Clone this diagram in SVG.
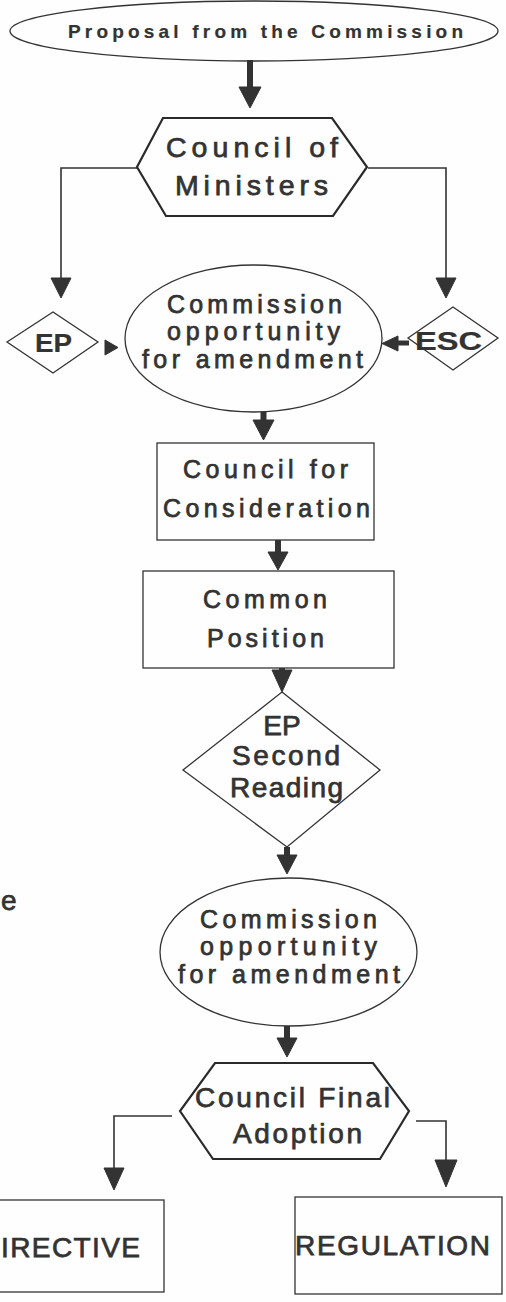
<svg xmlns="http://www.w3.org/2000/svg" width="506" height="1302" viewBox="0 0 506 1302">
<style>
.shape{fill:none;stroke:#333;stroke-width:1.3}
.hex{fill:none;stroke:#2a2a2a;stroke-width:2.2;stroke-linejoin:miter}
.line{fill:none;stroke:#333;stroke-width:1.6}
.shaft{fill:none;stroke:#333;stroke-width:6}
.head{fill:#333;stroke:#333;stroke-width:1;stroke-linejoin:round}
text{font-family:"Liberation Sans",Arial,Helvetica,sans-serif;fill:#333;text-anchor:middle;stroke:#333;stroke-width:0.75}
.b{font-weight:bold;stroke-width:0.2}
.s24{font-size:25px}
.s27{font-size:28px}
.s28{font-size:28.5px}
</style>
<rect x="0" y="0" width="506" height="1302" fill="#fefefe"/>
<g id="connectors">
<path class="shaft" d="M250,60 V88"/>
<polygon class="head" points="239,87 261,87 250,108"/>
<path class="line" d="M137,168 H61 V280"/>
<polygon class="head" points="51,278 71,278 61,298"/>
<path class="line" d="M368,168 H446 V280"/>
<polygon class="head" points="436,278 456,278 446,298"/>
<polygon class="head" points="105,340 105,355 118,347.5"/>
<path class="shaft" d="M409,343 H396" style="stroke-width:5"/>
<polygon class="head" points="398,336 398,351 382,343.5"/>
<path class="shaft" d="M263.5,412 V421"/>
<polygon class="head" points="253,420 274,420 263.5,440"/>
<path class="shaft" d="M278,540 V553"/>
<polygon class="head" points="268,552 288,552 278,570"/>
<path class="shaft" d="M282,668 V672"/>
<polygon class="head" points="272,670 292,670 282,692"/>
<path class="shaft" d="M287,847 V856"/>
<polygon class="head" points="277,855 297,855 287,874"/>
<path class="shaft" d="M287,1026 V1039"/>
<polygon class="head" points="277,1038 297,1038 287,1057"/>
<path class="line" d="M172,1116 H114 V1170"/>
<polygon class="head" points="104,1168 124,1168 114,1190"/>
<path class="line" d="M416,1121 H446 V1162"/>
<polygon class="head" points="435,1160 457,1160 446,1187"/>
</g>
<g id="proposal">
<ellipse class="shape" cx="254" cy="31" rx="244" ry="30"/>
<text class="b" x="265.5" y="38" font-size="19" textLength="395" lengthAdjust="spacing">Proposal from the Commission</text>
</g>
<g id="council-ministers">
<polygon class="hex" points="163,118 332,118 367,167 333,216 166,216 137,167"/>
<text class="s28" x="252" y="157" textLength="172" lengthAdjust="spacing">Council of</text>
<text class="s28" x="251.5" y="195" textLength="153" lengthAdjust="spacing">Ministers</text>
</g>
<g id="ep">
<polygon class="shape" points="7,342 53,312 98,342 53,373"/>
<text class="b" x="53.5" y="352" font-size="25" textLength="37" lengthAdjust="spacingAndGlyphs">EP</text>
</g>
<g id="commission-1">
<ellipse class="shape" cx="253.5" cy="338.5" rx="128.5" ry="73.5"/>
<text class="s24" x="254.5" y="313" textLength="175" lengthAdjust="spacing">Commission</text>
<text class="s24" x="253.5" y="340" textLength="173" lengthAdjust="spacing">opportunity</text>
<text class="s24" x="252.5" y="368" textLength="221" lengthAdjust="spacing">for amendment</text>
</g>
<g id="esc">
<polygon class="shape" points="408,338 453,307 498,338 453,370"/>
<text class="b" x="448.5" y="350" font-size="25" textLength="67" lengthAdjust="spacingAndGlyphs">ESC</text>
</g>
<g id="council-consideration">
<rect class="shape" x="157" y="443" width="217" height="97"/>
<text class="s24" x="265.5" y="478" textLength="165" lengthAdjust="spacing">Council for</text>
<text class="s24" x="266.5" y="517" textLength="207" lengthAdjust="spacing">Consideration</text>
</g>
<g id="common-position">
<rect class="shape" x="143" y="571" width="251" height="97"/>
<text class="s24" x="265" y="608" textLength="124" lengthAdjust="spacing">Common</text>
<text class="s24" x="265.5" y="647" textLength="117" lengthAdjust="spacing">Position</text>
</g>
<g id="ep-second-reading">
<polygon class="shape" points="282,692 380,770 287,847 183,770"/>
<text class="s27" x="282" y="735">EP</text>
<text class="s27" x="286" y="765" textLength="108" lengthAdjust="spacing">Second</text>
<text class="s27" x="286.5" y="797" textLength="113" lengthAdjust="spacing">Reading</text>
</g>
<g id="fragment-e">
<text class="s27" x="1" y="910" style="text-anchor:start">e</text>
</g>
<g id="commission-2">
<ellipse class="shape" cx="288.5" cy="952" rx="128.5" ry="74"/>
<text class="s24" x="288.5" y="928" textLength="177" lengthAdjust="spacing">Commission</text>
<text class="s24" x="288.5" y="955" textLength="177" lengthAdjust="spacing">opportunity</text>
<text class="s24" x="289" y="983" textLength="222" lengthAdjust="spacing">for amendment</text>
</g>
<g id="council-final">
<polygon class="hex" points="215,1063 373,1063 409,1111 380,1159 213,1159 180,1111"/>
<text class="s27" x="292.5" y="1107" textLength="195" lengthAdjust="spacing">Council Final</text>
<text class="s27" x="297.5" y="1143" textLength="129" lengthAdjust="spacing">Adoption</text>
</g>
<g id="directive">
<rect class="shape" x="-5" y="1200" width="169" height="92"/>
<text class="s27" x="70.5" y="1257" textLength="139" lengthAdjust="spacing">IRECTIVE</text>
</g>
<g id="regulation">
<rect class="shape" x="295" y="1197" width="207" height="97"/>
<text class="s27" x="392.5" y="1255" textLength="195" lengthAdjust="spacing">REGULATION</text>
</g>
</svg>
